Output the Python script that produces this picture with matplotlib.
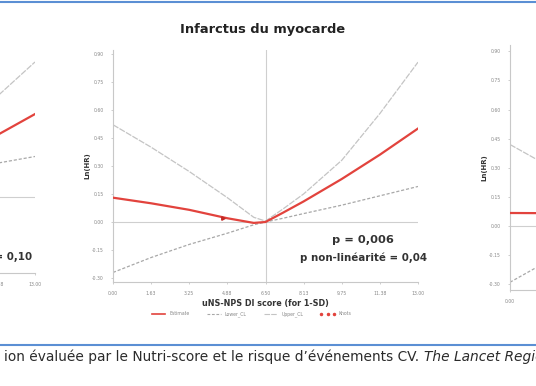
import matplotlib
matplotlib.use("Agg")
import matplotlib.pyplot as plt
from matplotlib.lines import Line2D

W, H = 536, 386

# x axis: uNS-NPS DI score, same ticks on every panel
score_ticks = [0, 1.625, 3.25, 4.875, 6.5, 8.125, 9.75, 11.375, 13]
score_labels = ["0.00", "1.63", "3.25", "4.88", "6.50", "8.13", "9.75", "11.38", "13.00"]
lnhr_ticks = [-0.30, -0.15, 0.00, 0.15, 0.30, 0.45, 0.60, 0.75, 0.90]
lnhr_labels = ["-0.30", "-0.15", "0.00", "0.15", "0.30", "0.45", "0.60", "0.75", "0.90"]
median_score = 6.5

# left panel (only its right end is visible)
left_x = [0, 1.625, 3.25, 4.875, 6.5, 8.125, 9.75, 11.375, 13]
left_est = [-0.05, -0.04, -0.03, -0.01, 0.0, 0.10, 0.21, 0.32, 0.43]
left_upper = [0.25, 0.18, 0.11, 0.05, 0.02, 0.17, 0.34, 0.52, 0.70]
left_lower = [-0.35, -0.26, -0.17, -0.07, -0.02, 0.04, 0.10, 0.175, 0.21]
left_shown_xlabels = ["11.38", "13.00"]

# centre panel: infarctus du myocarde
mi_x = [0, 1.625, 3.25, 4.875, 6.0, 6.5, 7.25, 8.125, 9.75, 11.375, 13]
mi_est = [0.13, 0.10, 0.065, 0.02, -0.005, 0.0, 0.05, 0.11, 0.23, 0.36, 0.50]
mi_upper = [0.52, 0.40, 0.27, 0.13, 0.025, 0.005, 0.07, 0.15, 0.33, 0.58, 0.855]
mi_lower = [-0.27, -0.19, -0.12, -0.06, -0.015, 0.0, 0.02, 0.045, 0.09, 0.14, 0.19]
mi_knots_x = [4.69]
mi_knots_y = [0.02]

# right panel (only its left end is visible)
right_x = [0, 1.625, 3.25, 4.875, 6.5, 8.125, 9.75, 11.375, 13]
right_est = [0.067, 0.066, 0.06, 0.05, 0.04, 0.05, 0.08, 0.12, 0.16]
right_upper = [0.42, 0.31, 0.21, 0.13, 0.08, 0.14, 0.24, 0.36, 0.50]
right_lower = [-0.29, -0.18, -0.09, -0.03, 0.0, -0.04, -0.07, -0.11, -0.16]
right_shown_xlabels = ["0.00"]

RED = "#e2433d"
UPPER_GREY = "#c4c4c4"
LOWER_GREY = "#a8a8a8"
REF_GREY = "#cfcfcf"
BLUE = "#5b8fd4"
UPPER_LS = (0, (5, 1))
LOWER_LS = (0, (2.5, 1.5))


def px_axes(fig, left, top, right, bottom):
    """Add an axes given its box in pixels (y measured from the top)."""
    return fig.add_axes([left / W, 1 - bottom / H, (right - left) / W, (bottom - top) / H])


def draw_panel(ax, x, est, upper, lower, ylim):
    """Draw one spline panel: estimate, confidence limits and reference lines."""
    ax.axhline(0, color=REF_GREY, lw=0.8, zorder=1)
    ax.axvline(median_score, color=REF_GREY, lw=0.8, zorder=1)
    ax.plot(x, upper, color=UPPER_GREY, lw=0.9, ls=UPPER_LS, zorder=2)
    ax.plot(x, lower, color=LOWER_GREY, lw=0.9, ls=LOWER_LS, zorder=2)
    ax.plot(x, est, color=RED, lw=1.6, zorder=3)

    ax.set_xticks(score_ticks)
    ax.set_xticklabels(score_labels)
    ax.set_yticks(lnhr_ticks)
    ax.set_yticklabels(lnhr_labels)
    # limits after the ticks, so set_yticks does not widen them
    ax.set_xlim(0, 13)
    ax.set_ylim(*ylim)
    ax.tick_params(labelsize=3.3, labelcolor="#888888", color="#bbbbbb",
                   length=1.5, width=0.5, pad=5)
    for side in ["top", "right"]:
        ax.spines[side].set_visible(False)
    for side in ["left", "bottom"]:
        ax.spines[side].set_color("#c8c8c8")
        ax.spines[side].set_linewidth(0.8)
    ax.set_ylabel("Ln(HR)", fontsize=5, fontweight="bold", color="#333333", labelpad=1)
    ax.set_facecolor("none")


def keep_labels(ax, shown):
    """Blank the x tick labels that fall outside the cropped picture."""
    ax.set_xticklabels([lab if lab in shown else "" for lab in score_labels])


fig = plt.figure(figsize=(W / 100, H / 100), dpi=100)

# left panel
ax_left = px_axes(fig, -270, 45, 35, 273)
draw_panel(ax_left, left_x, left_est, left_upper, left_lower, (-0.394, 0.788))
keep_labels(ax_left, left_shown_xlabels)
ax_left.set_yticklabels([])
ax_left.set_ylabel("")
ax_left.text(12.87, -0.31, "p non-linéarité = 0,10", ha="right", va="center",
             fontsize=7.4, fontweight="bold", color="#333333")

# centre panel
ax_mi = px_axes(fig, 113, 50, 418, 282)
draw_panel(ax_mi, mi_x, mi_est, mi_upper, mi_lower, (-0.321, 0.92))
ax_mi.plot(mi_knots_x, mi_knots_y, ls="none", marker=">", ms=2.5, color="#c22a25", zorder=4)
ax_mi.set_xlabel("uNS-NPS DI score (for 1-SD)", fontsize=5.8, fontweight="bold",
                 color="#333333", labelpad=2)
ax_mi.text(10.66, -0.096, "p = 0,006", ha="center", va="center",
           fontsize=8.2, fontweight="bold", color="#333333")
ax_mi.text(10.66, -0.19, "p non-linéarité = 0,04", ha="center", va="center",
           fontsize=7.4, fontweight="bold", color="#333333")

handles = [
    Line2D([], [], color=RED, lw=1.2),
    Line2D([], [], color=LOWER_GREY, lw=0.8, ls=LOWER_LS),
    Line2D([], [], color=UPPER_GREY, lw=0.8, ls=UPPER_LS),
    Line2D([], [], color=RED, ls="none", marker="o", ms=1.5),
]
fig.legend(handles, ["Estimate", "Lower_CL", "Upper_CL", "Knots"],
           loc="center", bbox_to_anchor=(251 / W, 1 - 314 / H), ncol=4,
           frameon=False, fontsize=3.3, labelcolor="#888888", numpoints=3,
           handlelength=3.5, columnspacing=3.5, handletextpad=0.6)

fig.text(263 / W, 1 - 30 / H, "Infarctus du myocarde", ha="center", va="center",
         fontsize=9.4, fontweight="bold", color="#222222")

# right panel
ax_right = px_axes(fig, 510, 45, 815, 290)
draw_panel(ax_right, right_x, right_est, right_upper, right_lower, (-0.33, 0.933))
keep_labels(ax_right, right_shown_xlabels)

# frame lines and caption
fig.add_artist(Line2D([0, 1], [1 - 1.5 / H, 1 - 1.5 / H], color=BLUE, lw=1.5))
fig.add_artist(Line2D([0, 1], [1 - 345 / H, 1 - 345 / H], color=BLUE, lw=1.5))

cap1 = fig.text(4 / W, 1 - 357 / H,
                "ion évaluée par le Nutri-score et le risque d’événements CV. ",
                ha="left", va="center", fontsize=10, color="#2b2b2b")
fig.canvas.draw()
width_px = cap1.get_window_extent().width
cap1.set_fontsize(10 * (423 - 4) / width_px)
fig.canvas.draw()
x_end = cap1.get_window_extent().x1
fig.text(x_end / W, 1 - 357 / H, "The Lancet Regional Health – Europe",
         ha="left", va="center", fontsize=cap1.get_fontsize(), style="italic",
         color="#2b2b2b")

fig.savefig("out.png", dpi=100)
